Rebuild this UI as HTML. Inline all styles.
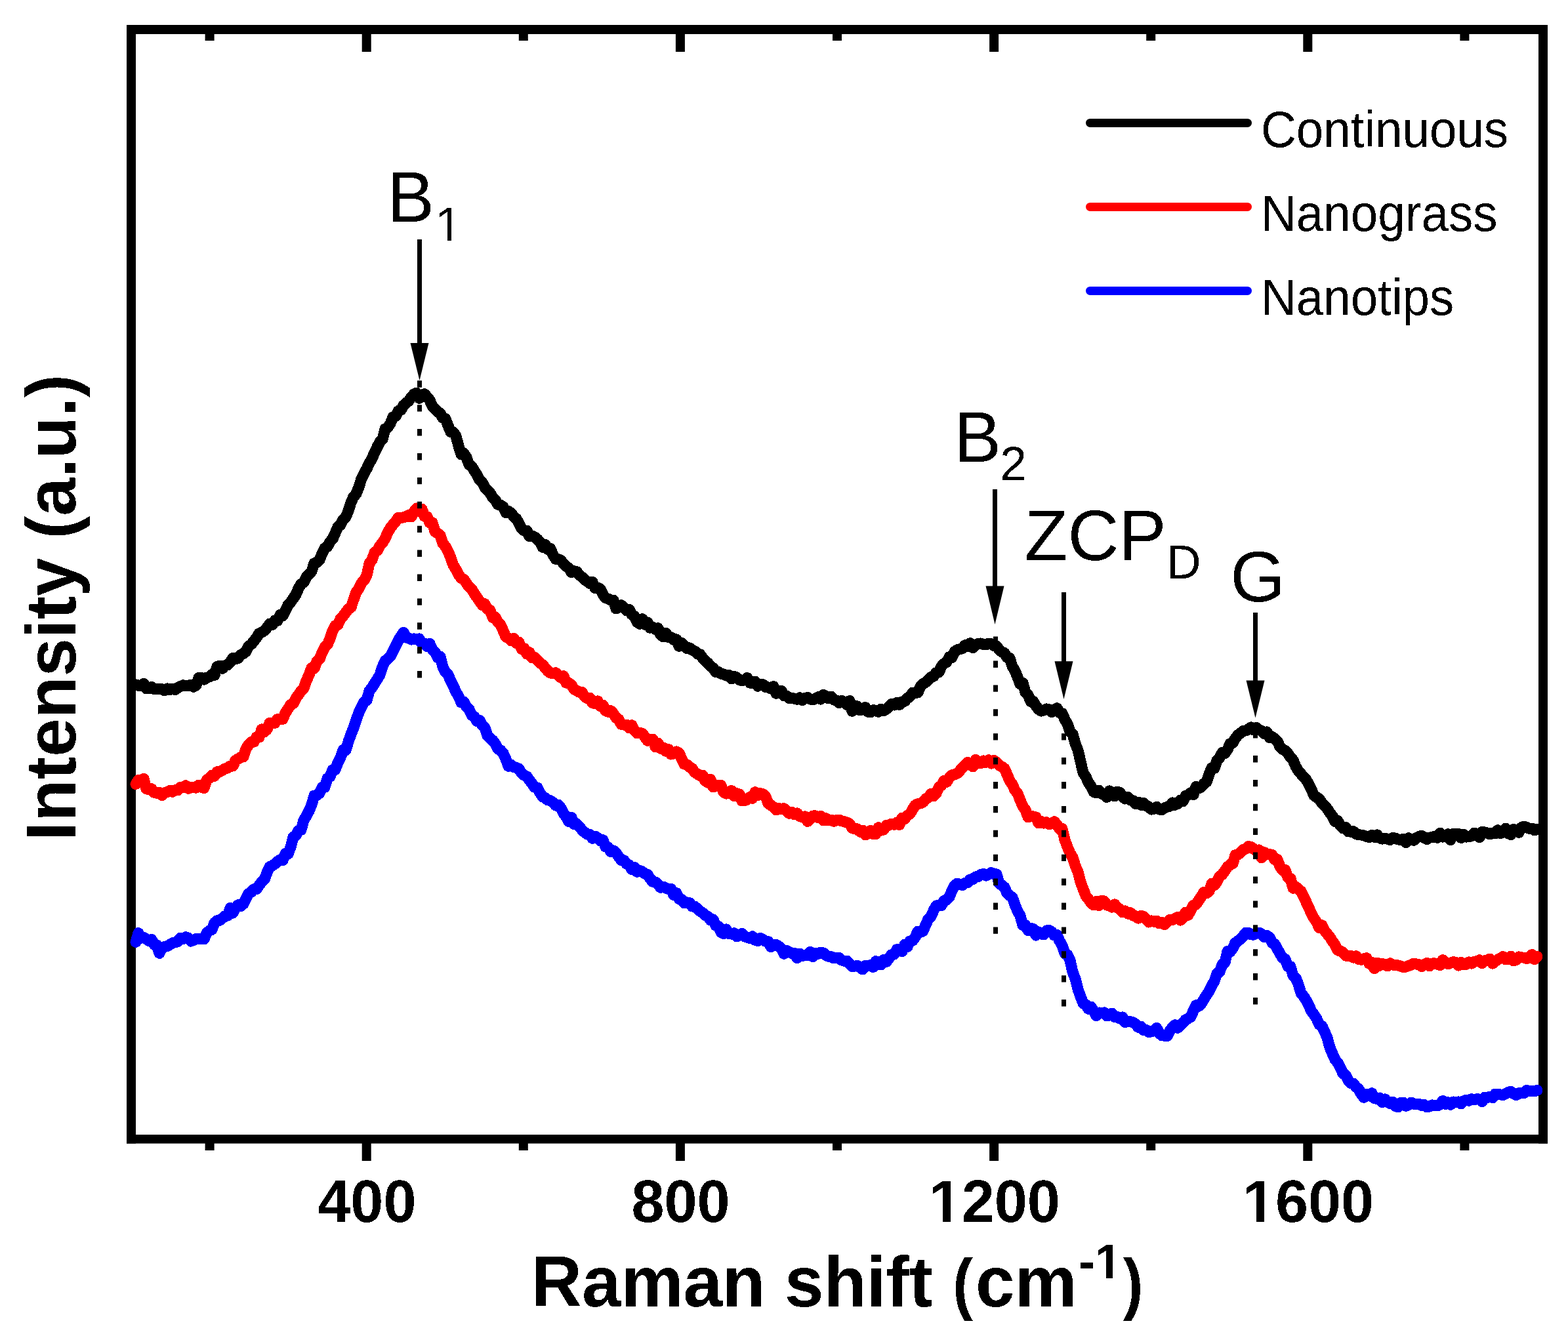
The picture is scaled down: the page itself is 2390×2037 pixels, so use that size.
<!DOCTYPE html>
<html><head><meta charset="utf-8"><title>Raman spectra</title>
<style>
html,body{margin:0;padding:0;background:#fff;overflow:hidden;}
svg{display:block;}
text{font-family:"Liberation Sans",sans-serif;fill:#000;}
</style></head><body>
<svg width="2390" height="2037" viewBox="0 0 2390 2037">
<defs><clipPath id="k1200" clipPathUnits="userSpaceOnUse"><path clip-rule="evenodd" d="M0 0H2390V2037H0ZM1419.87 1852.92H1436.71V1865.50H1419.87ZM1449.06 1852.92H1464.75V1865.50H1449.06Z"/></clipPath><clipPath id="k1600" clipPathUnits="userSpaceOnUse"><path clip-rule="evenodd" d="M0 0H2390V2037H0ZM1898.09 1852.92H1914.93V1865.50H1898.09ZM1927.28 1852.92H1942.97V1865.50H1927.28Z"/></clipPath><clipPath id="sup1" clipPathUnits="userSpaceOnUse"><path clip-rule="evenodd" d="M0 0H2390V2037H0ZM1671.94 1941.04H1686.07V1952.00H1671.94ZM1696.24 1941.04H1709.42V1952.00H1696.24Z"/></clipPath><clipPath id="s1" clipPathUnits="userSpaceOnUse"><path clip-rule="evenodd" d="M0 0H2390V2037H0ZM667.26 361.15H681.56V370.00H667.26ZM688.01 361.15H701.73V370.00H688.01Z"/></clipPath><filter id="crisp" x="0" y="0" width="100%" height="100%" filterUnits="userSpaceOnUse" color-interpolation-filters="sRGB"><feComponentTransfer><feFuncA type="discrete" tableValues="0 1"/></feComponentTransfer></filter></defs>
<rect x="0" y="0" width="2390" height="2037" fill="#fff"/>
<g fill="#000">
<rect x="193" y="38" width="2166" height="14"/>
<rect x="193" y="1730" width="2166" height="13.5"/>
<rect x="193" y="38" width="14" height="1705.5"/>
<rect x="2345" y="38" width="14" height="1705.5"/>
<rect x="551.7" y="52" width="14" height="27"/>
<rect x="551.7" y="1743" width="14" height="27"/>
<rect x="1029.9" y="52" width="14" height="27"/>
<rect x="1029.9" y="1743" width="14" height="27"/>
<rect x="1508.1" y="52" width="14" height="27"/>
<rect x="1508.1" y="1743" width="14" height="27"/>
<rect x="1986.3" y="52" width="14" height="27"/>
<rect x="1986.3" y="1743" width="14" height="27"/>
<rect x="312.6" y="52" width="14" height="10"/>
<rect x="312.6" y="1743" width="14" height="11"/>
<rect x="790.8" y="52" width="14" height="10"/>
<rect x="790.8" y="1743" width="14" height="11"/>
<rect x="1269.0" y="52" width="14" height="10"/>
<rect x="1269.0" y="1743" width="14" height="11"/>
<rect x="1747.2" y="52" width="14" height="10"/>
<rect x="1747.2" y="1743" width="14" height="11"/>
<rect x="2225.4" y="52" width="14" height="10"/>
<rect x="2225.4" y="1743" width="14" height="11"/>
</g>
<polyline fill="none" stroke="#000" stroke-width="17.0" stroke-linejoin="round" stroke-linecap="round" shape-rendering="crispEdges" points="207,1043.9 211,1045.2 215,1045.0 219,1042.5 223,1049.8 227,1049.5 231,1047.5 235,1050.8 239,1050.6 243,1050.9 247,1050.8 251,1052.8 255,1050.0 259,1051.5 263,1050.0 267,1051.6 271,1048.7 275,1046.7 279,1044.8 283,1045.6 287,1045.7 291,1044.2 295,1047.2 299,1044.9 303,1033.4 307,1033.6 311,1036.1 315,1033.2 319,1032.1 323,1028.5 327,1029.4 331,1016.3 335,1015.2 339,1019.3 343,1014.5 347,1014.0 351,1009.9 355,1003.2 359,1005.0 363,1003.5 367,998.5 371,996.6 375,993.3 379,985.4 383,982.2 387,977.7 391,972.2 395,965.8 399,964.2 403,961.4 407,957.0 411,951.3 415,952.5 419,946.0 423,946.2 427,937.5 431,938.6 435,931.4 439,922.4 443,918.3 447,912.5 451,906.6 455,897.1 459,890.5 463,887.7 467,879.8 471,875.6 475,871.0 479,858.8 483,857.7 487,853.9 491,843.6 495,835.8 499,833.5 503,826.1 507,821.8 511,812.6 515,803.4 519,800.3 523,792.5 527,788.4 531,779.1 535,765.9 539,757.4 543,752.7 547,742.5 551,729.8 555,722.3 559,714.6 563,706.2 567,699.2 571,689.9 575,681.5 579,673.7 583,669.7 587,653.7 591,652.0 595,645.7 599,635.8 603,634.6 607,626.6 611,625.4 615,618.0 619,614.7 623,611.2 627,605.4 631,600.9 635,599.0 639,607.2 643,602.3 647,600.7 651,605.2 655,610.0 659,619.5 663,623.4 667,627.8 671,630.1 675,637.4 679,638.4 683,649.0 687,658.7 691,659.0 695,664.7 699,680.3 703,692.9 707,691.0 711,697.4 715,708.7 719,711.0 723,717.7 727,723.8 731,731.9 735,735.5 739,743.3 743,748.0 747,751.8 751,758.5 755,762.1 759,769.3 763,770.1 767,772.8 771,781.5 775,779.5 779,782.1 783,787.5 787,790.9 791,797.9 795,805.5 799,809.4 803,809.2 807,817.6 811,816.9 815,818.8 819,822.0 823,826.1 827,834.3 831,830.3 835,837.8 839,836.3 843,846.2 847,852.3 851,852.6 855,854.5 859,859.5 863,863.5 867,866.3 871,872.5 875,870.7 879,871.7 883,876.3 887,879.9 891,883.7 895,886.4 899,889.6 903,887.4 907,896.6 911,896.0 915,897.9 919,906.3 923,911.7 927,913.0 931,915.2 935,915.3 939,928.0 943,925.6 947,922.9 951,926.2 955,930.8 959,929.2 963,937.1 967,939.7 971,948.5 975,951.3 979,943.8 983,952.2 987,948.9 991,957.1 995,956.3 999,959.5 1003,957.8 1007,967.9 1011,970.9 1015,965.4 1019,971.7 1023,971.6 1027,975.7 1031,974.9 1035,985.3 1039,980.2 1043,984.2 1047,988.6 1051,987.8 1055,991.1 1059,992.8 1063,996.9 1067,997.7 1071,1003.3 1075,1007.7 1079,1010.9 1083,1015.7 1087,1018.5 1091,1024.6 1095,1024.4 1099,1027.3 1103,1028.0 1107,1030.1 1111,1029.5 1115,1035.0 1119,1031.4 1123,1033.1 1127,1036.7 1131,1037.8 1135,1036.7 1139,1033.6 1143,1041.1 1147,1042.0 1151,1039.1 1155,1046.2 1159,1043.7 1163,1043.7 1167,1047.7 1171,1047.9 1175,1049.9 1179,1046.6 1183,1057.4 1187,1053.4 1191,1053.3 1195,1061.0 1199,1060.9 1203,1064.7 1207,1064.1 1211,1065.2 1215,1066.2 1219,1063.8 1223,1067.6 1227,1064.6 1231,1063.5 1235,1066.0 1239,1067.0 1243,1065.1 1247,1062.9 1251,1066.1 1255,1059.5 1259,1061.4 1263,1064.8 1267,1062.2 1271,1067.0 1275,1067.9 1279,1071.7 1283,1068.4 1287,1070.6 1291,1074.5 1295,1068.6 1299,1084.4 1303,1075.9 1307,1077.1 1311,1082.7 1315,1081.8 1319,1078.5 1323,1085.3 1327,1086.0 1331,1082.7 1335,1083.2 1339,1085.3 1343,1081.3 1347,1083.6 1351,1081.2 1355,1077.1 1359,1073.6 1363,1075.0 1367,1071.5 1371,1074.5 1375,1070.0 1379,1069.2 1383,1064.7 1387,1062.0 1391,1056.2 1395,1056.6 1399,1055.8 1403,1046.7 1407,1042.5 1411,1040.3 1415,1036.4 1419,1032.6 1423,1031.2 1427,1025.6 1431,1025.0 1435,1016.0 1439,1011.9 1443,1009.3 1447,1001.8 1451,1002.4 1455,993.7 1459,990.7 1463,989.7 1467,988.5 1471,983.7 1475,986.0 1479,980.7 1483,987.7 1487,983.2 1491,981.6 1495,981.0 1499,982.4 1503,983.0 1507,981.0 1511,981.7 1515,984.6 1519,985.0 1523,990.4 1527,993.9 1531,995.6 1535,1002.4 1539,1003.6 1543,1016.1 1547,1022.7 1551,1032.3 1555,1043.1 1559,1041.2 1563,1055.9 1567,1059.5 1571,1069.5 1575,1069.6 1579,1076.3 1583,1081.5 1587,1084.1 1591,1083.0 1595,1080.9 1599,1081.6 1603,1085.6 1607,1083.6 1611,1079.6 1615,1086.8 1619,1087.7 1623,1096.8 1627,1103.6 1631,1115.1 1635,1119.0 1639,1133.7 1643,1143.7 1647,1161.1 1651,1178.2 1655,1184.2 1659,1193.0 1663,1199.0 1667,1207.4 1671,1208.9 1675,1205.0 1679,1210.2 1683,1211.6 1687,1215.5 1691,1205.9 1695,1209.0 1699,1214.0 1703,1207.3 1707,1208.5 1711,1214.6 1715,1217.9 1719,1215.4 1723,1220.1 1727,1220.5 1731,1225.6 1735,1223.2 1739,1227.4 1743,1224.5 1747,1228.4 1751,1230.1 1755,1234.1 1759,1233.2 1763,1230.2 1767,1234.2 1771,1234.5 1775,1231.7 1779,1230.3 1783,1229.2 1787,1223.9 1791,1227.2 1795,1225.4 1799,1220.2 1803,1221.9 1807,1213.5 1811,1212.3 1815,1208.9 1819,1211.8 1823,1199.3 1827,1201.9 1831,1199.8 1835,1194.8 1839,1192.3 1843,1180.6 1847,1170.7 1851,1171.4 1855,1159.1 1859,1155.2 1863,1147.6 1867,1148.4 1871,1143.0 1875,1133.9 1879,1132.8 1883,1125.6 1887,1120.5 1891,1117.8 1895,1114.3 1899,1114.0 1903,1111.5 1907,1109.1 1911,1112.9 1915,1109.4 1919,1112.8 1923,1114.4 1927,1118.8 1931,1115.9 1935,1124.5 1939,1123.6 1943,1126.4 1947,1130.0 1951,1138.7 1955,1142.6 1959,1144.5 1963,1148.8 1967,1154.7 1971,1159.0 1975,1168.8 1979,1175.2 1983,1179.9 1987,1184.7 1991,1188.7 1995,1195.9 1999,1204.0 2003,1213.1 2007,1215.7 2011,1218.3 2015,1224.7 2019,1228.8 2023,1233.0 2027,1239.1 2031,1244.4 2035,1252.7 2039,1251.8 2043,1258.5 2047,1262.8 2051,1261.3 2055,1267.9 2059,1268.1 2063,1267.6 2067,1271.7 2071,1272.8 2075,1273.1 2079,1273.9 2083,1275.4 2087,1276.6 2091,1273.6 2095,1276.3 2099,1272.8 2103,1277.8 2107,1279.1 2111,1278.4 2115,1279.2 2119,1280.4 2123,1277.3 2127,1278.2 2131,1279.9 2135,1280.8 2139,1279.0 2143,1284.6 2147,1277.8 2151,1280.6 2155,1281.3 2159,1277.6 2163,1275.5 2167,1274.2 2171,1277.3 2175,1279.5 2179,1277.1 2183,1276.6 2187,1275.0 2191,1277.3 2195,1270.1 2199,1276.1 2203,1275.4 2207,1271.7 2211,1280.7 2215,1271.3 2219,1272.0 2223,1271.6 2227,1277.5 2231,1272.2 2235,1276.1 2239,1275.7 2243,1274.6 2247,1270.2 2251,1271.4 2255,1276.8 2259,1268.4 2263,1268.9 2267,1270.0 2271,1272.0 2275,1270.0 2279,1270.9 2283,1265.7 2287,1270.5 2291,1269.1 2295,1263.1 2299,1270.9 2303,1272.6 2307,1264.3 2311,1266.2 2315,1269.4 2319,1261.6 2323,1260.1 2327,1261.6 2331,1263.3 2335,1263.0 2339,1265.9 2343,1264.8"/>
<polyline fill="none" stroke="#f00" stroke-width="17.0" stroke-linejoin="round" stroke-linecap="round" shape-rendering="crispEdges" points="207,1195.5 211,1189.3 215,1189.5 219,1187.4 223,1202.6 227,1203.8 231,1202.8 235,1208.4 239,1209.3 243,1208.4 247,1212.5 251,1208.6 255,1207.6 259,1205.3 263,1207.3 267,1204.7 271,1205.0 275,1200.4 279,1200.9 283,1197.7 287,1202.2 291,1200.5 295,1200.9 299,1201.1 303,1197.0 307,1200.3 311,1201.6 315,1189.5 319,1186.4 323,1182.3 327,1183.1 331,1176.8 335,1176.8 339,1174.5 343,1172.1 347,1171.0 351,1168.0 355,1168.0 359,1159.3 363,1157.1 367,1154.6 371,1153.9 375,1141.7 379,1135.3 383,1131.5 387,1131.1 391,1123.9 395,1124.0 399,1111.9 403,1115.9 407,1112.1 411,1102.2 415,1102.9 419,1102.4 423,1096.5 427,1096.0 431,1096.3 435,1087.0 439,1080.9 443,1074.4 447,1072.6 451,1064.8 455,1059.2 459,1053.5 463,1049.2 467,1038.0 471,1029.1 475,1018.2 479,1019.0 483,1008.2 487,1005.0 491,994.8 495,986.6 499,983.0 503,973.8 507,961.8 511,953.8 515,952.8 519,943.3 523,939.3 527,933.9 531,928.5 535,926.2 539,914.1 543,903.0 547,897.5 551,889.0 555,884.7 559,877.5 563,858.9 567,853.7 571,842.1 575,839.6 579,832.2 583,827.6 587,820.9 591,812.2 595,804.9 599,799.9 603,795.2 607,789.6 611,789.7 615,788.8 619,787.9 623,785.3 627,788.0 631,780.2 635,775.0 639,780.0 643,776.0 647,787.1 651,787.8 655,796.9 659,796.9 663,810.3 667,813.1 671,816.3 675,828.8 679,833.1 683,840.6 687,850.6 691,861.8 695,868.2 699,876.2 703,881.7 707,883.3 711,889.3 715,895.0 719,898.2 723,905.2 727,910.8 731,916.8 735,922.3 739,920.8 743,928.7 747,930.5 751,941.6 755,941.1 759,948.5 763,952.8 767,961.6 771,970.9 775,972.9 779,976.8 783,973.4 787,980.8 791,979.2 795,989.7 799,988.9 803,997.1 807,994.7 811,1002.8 815,1002.4 819,1006.4 823,1010.9 827,1013.4 831,1018.4 835,1023.1 839,1026.0 843,1026.7 847,1025.7 851,1029.4 855,1033.2 859,1030.8 863,1041.1 867,1041.5 871,1044.5 875,1050.7 879,1053.2 883,1055.3 887,1055.4 891,1061.9 895,1064.8 899,1064.2 903,1071.7 907,1072.8 911,1068.8 915,1076.5 919,1075.1 923,1083.6 927,1085.4 931,1083.7 935,1088.0 939,1094.3 943,1096.9 947,1104.4 951,1105.1 955,1105.1 959,1109.9 963,1105.6 967,1114.0 971,1117.8 975,1117.4 979,1118.2 983,1123.6 987,1129.2 991,1127.1 995,1127.2 999,1138.9 1003,1133.0 1007,1141.2 1011,1140.0 1015,1145.5 1019,1142.7 1023,1150.0 1027,1149.1 1031,1146.0 1035,1148.2 1039,1156.8 1043,1165.1 1047,1165.8 1051,1169.3 1055,1171.9 1059,1177.7 1063,1179.9 1067,1182.7 1071,1182.3 1075,1190.6 1079,1193.3 1083,1188.4 1087,1199.8 1091,1198.0 1095,1197.7 1099,1197.7 1103,1207.9 1107,1210.1 1111,1208.1 1115,1205.6 1119,1213.7 1123,1209.8 1127,1211.0 1131,1221.0 1135,1220.7 1139,1218.9 1143,1215.5 1147,1217.2 1151,1207.8 1155,1212.4 1159,1209.8 1163,1210.9 1167,1214.6 1171,1225.1 1175,1227.7 1179,1230.6 1183,1235.0 1187,1232.7 1191,1233.2 1195,1232.6 1199,1236.9 1203,1240.2 1207,1238.4 1211,1241.9 1215,1239.9 1219,1244.7 1223,1246.0 1227,1245.0 1231,1252.4 1235,1248.9 1239,1244.0 1243,1243.9 1247,1246.6 1251,1244.5 1255,1251.0 1259,1247.7 1263,1251.0 1267,1250.1 1271,1252.3 1275,1250.5 1279,1250.2 1283,1251.9 1287,1252.8 1291,1254.1 1295,1256.1 1299,1262.6 1303,1264.0 1307,1263.9 1311,1268.1 1315,1266.0 1319,1272.9 1323,1271.3 1327,1266.4 1331,1271.7 1335,1271.5 1339,1261.8 1343,1266.1 1347,1265.0 1351,1258.6 1355,1258.2 1359,1256.1 1363,1257.3 1367,1254.1 1371,1257.5 1375,1247.1 1379,1248.6 1383,1243.3 1387,1241.1 1391,1234.1 1395,1227.8 1399,1225.7 1403,1224.8 1407,1223.1 1411,1218.0 1415,1215.8 1419,1210.3 1423,1214.0 1427,1209.8 1431,1200.5 1435,1197.4 1439,1190.3 1443,1192.3 1447,1185.8 1451,1181.8 1455,1181.0 1459,1179.3 1463,1175.1 1467,1170.4 1471,1166.9 1475,1162.3 1479,1165.4 1483,1169.0 1487,1158.5 1491,1163.2 1495,1163.7 1499,1159.9 1503,1162.5 1507,1158.6 1511,1164.1 1515,1159.3 1519,1162.4 1523,1166.8 1527,1168.8 1531,1171.9 1535,1180.7 1539,1190.3 1543,1195.8 1547,1204.8 1551,1209.5 1555,1220.1 1559,1229.3 1563,1234.9 1567,1245.9 1571,1244.2 1575,1245.0 1579,1245.9 1583,1254.9 1587,1252.3 1591,1255.1 1595,1253.7 1599,1256.7 1603,1255.8 1607,1252.7 1611,1257.4 1615,1263.8 1619,1263.4 1623,1280.5 1627,1291.3 1631,1300.7 1635,1307.4 1639,1320.0 1643,1329.1 1647,1344.8 1651,1355.5 1655,1365.7 1659,1370.9 1663,1376.5 1667,1380.0 1671,1374.3 1675,1380.6 1679,1373.6 1683,1374.0 1687,1380.0 1691,1381.1 1695,1383.1 1699,1378.8 1703,1384.2 1707,1386.1 1711,1390.7 1715,1389.0 1719,1393.1 1723,1391.7 1727,1396.0 1731,1396.6 1735,1400.2 1739,1396.3 1743,1397.2 1747,1401.5 1751,1405.9 1755,1403.9 1759,1405.2 1763,1404.1 1767,1407.8 1771,1406.4 1775,1409.5 1779,1405.9 1783,1402.3 1787,1402.6 1791,1400.4 1795,1398.3 1799,1403.2 1803,1399.5 1807,1391.1 1811,1395.4 1815,1387.7 1819,1380.3 1823,1379.0 1827,1373.1 1831,1367.0 1835,1360.3 1839,1361.9 1843,1358.9 1847,1347.1 1851,1349.8 1855,1344.3 1859,1336.3 1863,1333.3 1867,1327.8 1871,1321.9 1875,1318.2 1879,1316.8 1883,1303.6 1887,1303.0 1891,1299.9 1895,1295.4 1899,1294.3 1903,1290.5 1907,1291.5 1911,1294.5 1915,1297.0 1919,1295.9 1923,1307.9 1927,1299.7 1931,1302.4 1935,1302.5 1939,1303.5 1943,1310.6 1947,1310.6 1951,1321.2 1955,1326.8 1959,1326.7 1963,1337.9 1967,1339.4 1971,1354.2 1975,1351.9 1979,1355.9 1983,1358.9 1987,1366.5 1991,1375.5 1995,1384.2 1999,1393.0 2003,1400.4 2007,1406.3 2011,1414.6 2015,1410.7 2019,1418.8 2023,1423.9 2027,1428.8 2031,1435.2 2035,1440.6 2039,1448.8 2043,1450.0 2047,1452.0 2051,1457.0 2055,1457.6 2059,1457.4 2063,1460.0 2067,1457.8 2071,1462.6 2075,1463.2 2079,1461.8 2083,1460.8 2087,1469.4 2091,1467.5 2095,1476.8 2099,1468.2 2103,1472.4 2107,1469.3 2111,1471.2 2115,1472.9 2119,1468.8 2123,1470.9 2127,1471.9 2131,1471.9 2135,1473.3 2139,1474.5 2143,1474.1 2147,1472.6 2151,1471.1 2155,1469.1 2159,1470.1 2163,1470.6 2167,1473.6 2171,1470.7 2175,1468.3 2179,1472.9 2183,1469.0 2187,1468.9 2191,1470.0 2195,1471.6 2199,1463.7 2203,1466.8 2207,1469.8 2211,1468.2 2215,1466.7 2219,1467.4 2223,1472.2 2227,1467.3 2231,1470.3 2235,1470.4 2239,1467.0 2243,1469.1 2247,1466.5 2251,1465.7 2255,1463.9 2259,1468.6 2263,1464.8 2267,1463.9 2271,1462.0 2275,1469.1 2279,1465.9 2283,1463.1 2287,1461.2 2291,1458.6 2295,1462.9 2299,1462.7 2303,1458.1 2307,1464.7 2311,1463.6 2315,1459.0 2319,1459.9 2323,1460.1 2327,1461.4 2331,1460.2 2335,1455.5 2339,1462.6 2343,1458.4"/>
<polyline fill="none" stroke="#00f" stroke-width="17.0" stroke-linejoin="round" stroke-linecap="round" shape-rendering="crispEdges" points="207,1436.3 211,1422.6 215,1430.3 219,1429.3 223,1431.8 227,1434.5 231,1432.5 235,1440.1 239,1441.0 243,1453.4 247,1445.5 251,1443.4 255,1442.6 259,1440.3 263,1437.8 267,1436.8 271,1435.5 275,1430.3 279,1431.6 283,1428.7 287,1430.0 291,1435.0 295,1433.4 299,1431.2 303,1431.5 307,1431.3 311,1431.9 315,1422.7 319,1419.1 323,1417.4 327,1407.0 331,1403.6 335,1403.3 339,1400.0 343,1396.6 347,1396.0 351,1384.5 355,1392.1 359,1384.4 363,1379.8 367,1381.5 371,1378.2 375,1369.7 379,1362.4 383,1360.1 387,1355.6 391,1355.5 395,1350.0 399,1344.2 403,1341.1 407,1330.6 411,1321.6 415,1320.0 419,1317.1 423,1313.5 427,1310.8 431,1311.8 435,1301.4 439,1302.1 443,1291.7 447,1276.4 451,1273.7 455,1266.4 459,1265.4 463,1250.5 467,1244.3 471,1236.6 475,1227.0 479,1213.0 483,1212.7 487,1209.2 491,1200.7 495,1200.3 499,1186.8 503,1184.3 507,1174.0 511,1173.6 515,1163.0 519,1155.0 523,1143.7 527,1143.8 531,1130.8 535,1119.5 539,1109.4 543,1097.6 547,1086.4 551,1077.9 555,1070.1 559,1068.0 563,1053.3 567,1048.4 571,1041.9 575,1035.8 579,1029.1 583,1016.6 587,1007.7 591,1004.9 595,1001.0 599,992.8 603,984.7 607,976.7 611,970.4 615,964.4 619,972.1 623,972.9 627,975.1 631,973.9 635,975.1 639,973.9 643,980.8 647,981.1 651,985.7 655,981.4 659,990.3 663,994.3 667,1002.5 671,1000.9 675,1016.6 679,1025.0 683,1028.4 687,1038.4 691,1046.3 695,1054.7 699,1061.9 703,1070.9 707,1070.3 711,1077.9 715,1081.3 719,1090.4 723,1092.7 727,1099.5 731,1098.3 735,1106.0 739,1109.8 743,1121.6 747,1125.4 751,1128.9 755,1134.1 759,1141.8 763,1143.9 767,1148.4 771,1157.5 775,1168.2 779,1166.2 783,1169.4 787,1170.5 791,1172.1 795,1178.9 799,1182.2 803,1183.7 807,1189.6 811,1194.7 815,1200.4 819,1200.9 823,1208.7 827,1214.9 831,1216.5 835,1219.9 839,1220.7 843,1223.4 847,1228.1 851,1227.2 855,1232.1 859,1240.2 863,1245.4 867,1252.7 871,1246.2 875,1256.7 879,1256.0 883,1260.4 887,1265.2 891,1269.0 895,1271.9 899,1272.3 903,1278.3 907,1275.2 911,1277.3 915,1281.7 919,1280.7 923,1291.1 927,1291.8 931,1298.7 935,1296.9 939,1300.3 943,1306.1 947,1311.7 951,1311.8 955,1317.2 959,1318.9 963,1325.7 967,1322.3 971,1329.3 975,1327.4 979,1329.0 983,1332.2 987,1333.5 991,1339.6 995,1344.5 999,1344.8 1003,1348.4 1007,1353.3 1011,1352.0 1015,1354.2 1019,1355.7 1023,1355.4 1027,1364.8 1031,1361.5 1035,1370.5 1039,1371.3 1043,1376.7 1047,1376.0 1051,1376.5 1055,1382.0 1059,1382.1 1063,1385.7 1067,1389.1 1071,1391.9 1075,1395.5 1079,1397.6 1083,1403.0 1087,1401.9 1091,1411.2 1095,1412.3 1099,1421.4 1103,1423.7 1107,1416.9 1111,1423.7 1115,1424.1 1119,1422.8 1123,1427.8 1127,1426.0 1131,1423.3 1135,1428.0 1139,1429.0 1143,1430.5 1147,1427.8 1151,1433.4 1155,1434.5 1159,1430.5 1163,1432.7 1167,1435.4 1171,1435.7 1175,1443.5 1179,1441.4 1183,1440.3 1187,1442.8 1191,1446.5 1195,1454.3 1199,1449.4 1203,1451.6 1207,1453.8 1211,1453.5 1215,1460.6 1219,1454.1 1223,1457.7 1227,1456.0 1231,1456.6 1235,1451.3 1239,1458.6 1243,1453.7 1247,1454.3 1251,1452.1 1255,1452.9 1259,1456.7 1263,1458.4 1267,1458.7 1271,1460.9 1275,1460.7 1279,1460.4 1283,1464.1 1287,1465.2 1291,1465.2 1295,1469.7 1299,1473.7 1303,1473.1 1307,1472.4 1311,1475.1 1315,1478.0 1319,1472.3 1323,1472.3 1327,1471.7 1331,1474.5 1335,1465.6 1339,1470.3 1343,1470.9 1347,1463.3 1351,1466.4 1355,1461.1 1359,1455.6 1363,1455.0 1367,1447.8 1371,1447.5 1375,1450.7 1379,1440.1 1383,1443.6 1387,1434.9 1391,1434.3 1395,1428.9 1399,1420.1 1403,1421.4 1407,1419.5 1411,1409.9 1415,1401.3 1419,1397.5 1423,1388.3 1427,1381.1 1431,1380.0 1435,1380.5 1439,1373.1 1443,1372.0 1447,1367.7 1451,1358.0 1455,1350.3 1459,1347.2 1463,1348.6 1467,1349.5 1471,1346.5 1475,1345.5 1479,1340.8 1483,1340.7 1487,1337.0 1491,1336.5 1495,1333.6 1499,1332.6 1503,1335.1 1507,1332.9 1511,1330.6 1515,1332.5 1519,1333.0 1523,1347.0 1527,1349.6 1531,1352.8 1535,1361.9 1539,1365.5 1543,1368.0 1547,1379.6 1551,1389.0 1555,1396.0 1559,1410.8 1563,1410.5 1567,1418.5 1571,1415.2 1575,1416.4 1579,1426.1 1583,1420.9 1587,1424.1 1591,1424.9 1595,1419.0 1599,1418.4 1603,1420.9 1607,1426.1 1611,1425.6 1615,1434.7 1619,1441.6 1623,1453.8 1627,1455.6 1631,1464.4 1635,1481.8 1639,1492.3 1643,1508.3 1647,1519.3 1651,1529.8 1655,1531.7 1659,1538.3 1663,1535.1 1667,1541.1 1671,1548.8 1675,1544.0 1679,1544.7 1683,1543.9 1687,1548.9 1691,1548.1 1695,1545.0 1699,1550.4 1703,1550.4 1707,1553.0 1711,1550.9 1715,1558.6 1719,1557.1 1723,1557.8 1727,1558.9 1731,1561.5 1735,1566.3 1739,1565.2 1743,1570.4 1747,1570.5 1751,1573.5 1755,1572.8 1759,1571.3 1763,1567.5 1767,1575.2 1771,1578.9 1775,1579.1 1779,1579.6 1783,1571.7 1787,1566.5 1791,1562.7 1795,1567.4 1799,1563.1 1803,1559.8 1807,1554.9 1811,1552.8 1815,1550.4 1819,1541.2 1823,1532.7 1827,1534.2 1831,1530.1 1835,1523.8 1839,1517.2 1843,1511.4 1847,1502.6 1851,1496.0 1855,1484.1 1859,1481.8 1863,1470.5 1867,1467.8 1871,1450.4 1875,1451.1 1879,1445.9 1883,1437.4 1887,1434.9 1891,1431.2 1895,1427.2 1899,1422.1 1903,1422.5 1907,1424.9 1911,1425.2 1915,1422.0 1919,1422.1 1923,1424.0 1927,1428.8 1931,1426.5 1935,1429.1 1939,1437.4 1943,1439.6 1947,1446.7 1951,1454.1 1955,1460.7 1959,1462.5 1963,1473.6 1967,1473.7 1971,1487.6 1975,1491.0 1979,1500.8 1983,1514.2 1987,1519.0 1991,1525.1 1995,1532.9 1999,1542.0 2003,1547.2 2007,1553.4 2011,1562.3 2015,1564.4 2019,1572.9 2023,1582.4 2027,1597.1 2031,1606.5 2035,1615.7 2039,1620.3 2043,1627.5 2047,1636.8 2051,1639.3 2055,1647.5 2059,1651.7 2063,1652.1 2067,1657.3 2071,1660.5 2075,1668.5 2079,1673.4 2083,1668.7 2087,1670.9 2091,1666.6 2095,1674.5 2099,1675.4 2103,1674.1 2107,1680.5 2111,1675.8 2115,1680.6 2119,1682.6 2123,1680.1 2127,1686.5 2131,1687.7 2135,1681.4 2139,1681.2 2143,1686.3 2147,1684.4 2151,1681.1 2155,1683.3 2159,1683.6 2163,1683.4 2167,1685.8 2171,1684.6 2175,1688.0 2179,1686.9 2183,1684.9 2187,1685.7 2191,1686.0 2195,1684.0 2199,1678.5 2203,1683.4 2207,1680.9 2211,1684.4 2215,1680.0 2219,1680.8 2223,1679.9 2227,1683.0 2231,1678.7 2235,1677.1 2239,1678.2 2243,1675.7 2247,1676.8 2251,1675.8 2255,1676.0 2259,1679.7 2263,1673.1 2267,1673.6 2271,1672.3 2275,1673.7 2279,1668.0 2283,1668.2 2287,1668.9 2291,1669.5 2295,1667.3 2299,1665.6 2303,1664.3 2307,1667.6 2311,1669.8 2315,1666.7 2319,1666.1 2323,1666.5 2327,1662.5 2331,1663.7 2335,1663.2 2339,1664.0 2343,1662.3"/>
<line x1="639.5" y1="580.3" x2="639.5" y2="1033.5" stroke="#000" stroke-width="7" stroke-dasharray="10.4 26.5"/>
<line x1="1517.5" y1="970.6" x2="1517.5" y2="1423.8" stroke="#000" stroke-width="7" stroke-dasharray="10.4 26.5"/>
<line x1="1621.5" y1="1081.3" x2="1621.5" y2="1534.5" stroke="#000" stroke-width="7" stroke-dasharray="10.4 26.5"/>
<line x1="1913.5" y1="1115.1" x2="1913.5" y2="1531.4" stroke="#000" stroke-width="7" stroke-dasharray="10.4 26.5"/>
<rect x="636.0" y="365" width="7" height="160.0" fill="#000"/><polygon points="625.5,523 653.5,523 639.5,580" fill="#000"/>
<rect x="1513.0" y="746" width="7" height="149.5" fill="#000"/><polygon points="1502.5,893.5 1530.5,893.5 1516.5,952" fill="#000"/>
<rect x="1618.0" y="903" width="7" height="107.3" fill="#000"/><polygon points="1607.5,1008.3 1635.5,1008.3 1621.5,1066" fill="#000"/>
<rect x="1910.0" y="934" width="7" height="105.4" fill="#000"/><polygon points="1899.5,1037.4 1927.5,1037.4 1913.5,1094.5" fill="#000"/>
<g filter="url(#crisp)">
<text transform="translate(590.10,338.00) scale(1,1.0100)" font-size="108">B</text>
<g clip-path="url(#s1)"><text x="663.20" y="367.00" font-size="73">1</text></g>
<text transform="translate(1454.10,703.60) scale(1,1.0100)" font-size="108">B</text><text x="1524.30" y="731.70" font-size="73">2</text>
<text transform="translate(1561.60,853.90) scale(1,1.0100)" font-size="108">ZCP</text><text x="1778.00" y="881.70" font-size="73">D</text>
<text transform="translate(1875.30,916.50) scale(1,1.0100)" font-size="108">G</text>
<text x="559.37" y="1862.50" font-size="90" font-weight="bold" text-anchor="middle">400</text>
<text x="1037.59" y="1862.50" font-size="90" font-weight="bold" text-anchor="middle">800</text>
<g clip-path="url(#k1200)"><text x="1515.81" y="1862.50" font-size="90" font-weight="bold" text-anchor="middle">1200</text></g>
<g clip-path="url(#k1600)"><text x="1994.03" y="1862.50" font-size="90" font-weight="bold" text-anchor="middle">1600</text></g>
<text transform="translate(809.85,1991.70) scale(1,1.0160)" font-size="106.9" font-weight="bold">Raman shift </text>
<text transform="translate(1452.3,1991.7) scale(0.864,0.9625)" font-size="106.9" font-weight="bold">(</text>
<text transform="translate(1486.95,1991.70) scale(1,1.0160)" font-size="106.9" font-weight="bold">cm</text>
<g clip-path="url(#sup1)"><text x="1644.10" y="1949.00" font-size="74.1" font-weight="bold">-1</text></g>
<text transform="translate(1711.8,1991.7) scale(0.864,0.9625)" font-size="106.9" font-weight="bold">)</text>
<text transform="translate(114.9,1282) rotate(-90) scale(1,1.02)" font-size="104.9" font-weight="bold">Intensity (a.u.)</text>
</g>
<line x1="1661.5" y1="187.4" x2="1901.5" y2="187.4" stroke="#000" stroke-width="13" stroke-linecap="round"/>
<line x1="1661.5" y1="315.4" x2="1901.5" y2="315.4" stroke="#f00" stroke-width="13" stroke-linecap="round"/>
<line x1="1661.5" y1="443.4" x2="1901.5" y2="443.4" stroke="#00f" stroke-width="13" stroke-linecap="round"/>
<g filter="url(#crisp)"><text transform="translate(1922.00,223.70) scale(1,1.0360)" font-size="74.55">Continuous</text><text transform="translate(1922.00,351.80) scale(1,1.0360)" font-size="74.55">Nanograss</text><text transform="translate(1922.00,480.00) scale(1,1.0360)" font-size="74.55">Nanotips</text></g>
</svg></body></html>
